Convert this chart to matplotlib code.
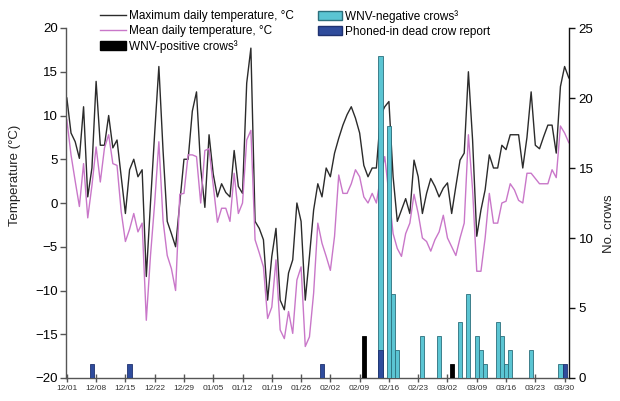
import matplotlib
matplotlib.use('Agg')
import matplotlib.pyplot as plt
from matplotlib.lines import Line2D
from matplotlib.patches import Patch

plt.rcParams['font.family'] = ['Liberation Sans', 'DejaVu Sans']

# daily temperatures, 12/01 (day 0) to 03/31 (day 120)
max_temp = [12.0, 8.0, 7.0, 5.1, 11.0, 0.7, 4.0, 13.9, 6.6, 6.6,
            10.0, 6.3, 7.2, 3.0, -1.2, 3.8, 5.0, 3.0, 3.8, -8.4,
            0.0, 8.0, 15.6, 6.0, -2.1, -3.5, -5.0, 0.0, 5.0, 5.0,
            10.5, 12.7, 4.0, -0.5, 7.8, 3.3, 0.7, 2.2, 1.2, 0.7,
            6.0, 1.9, 1.1, 13.7, 17.7, -2.1, -2.9, -4.2, -11.1, -6.1,
            -2.9, -11.1, -12.2, -8.0, -6.5, 0.0, -2.1, -11.1, -6.1, -0.8,
            2.2, 0.7, 4.0, 3.0, 5.7, 7.4, 8.9, 10.1, 11.0, 9.7,
            8.0, 4.3, 3.0, 4.0, 4.0, 10.0, 11.0, 11.6, 3.0, -2.1,
            -0.8, 0.5, -1.2, 4.9, 3.0, -1.2, 1.1, 2.8, 1.9, 0.7,
            1.7, 2.3, -1.2, 1.9, 4.9, 5.7, 15.0, 7.2, -3.8, -0.8,
            1.5, 5.5, 4.0, 4.0, 6.6, 6.1, 7.8, 7.8, 7.8, 4.0,
            7.5, 12.7, 6.6, 6.2, 7.6, 8.9, 8.9, 5.7, 13.3, 15.6,
            14.3]
mean_temp = [9.5, 5.5, 2.5, -0.4, 4.5, -1.7, 2.0, 6.4, 2.4, 6.3,
             7.8, 4.5, 4.3, -1.0, -4.4, -3.0, -1.2, -3.3, -2.3, -13.4,
             -6.0, 0.0, 7.0, -2.0, -6.0, -7.5, -10.0, 1.0, 1.1, 5.5,
             5.5, 5.3, 0.0, 6.0, 6.2, 2.0, -2.2, -0.6, -0.6, -2.1,
             3.4, -1.2, 0.0, 7.2, 8.3, -4.2, -5.7, -7.3, -13.2, -11.9,
             -6.5, -14.5, -15.5, -12.4, -14.9, -8.8, -7.3, -16.4, -15.3, -10.3,
             -2.3, -4.6, -6.1, -7.7, -3.8, 3.2, 1.1, 1.1, 2.2, 3.8,
             3.0, 0.7, 0.0, 1.1, 0.0, 3.0, 5.3, 1.0, -3.5, -5.2,
             -6.1, -3.5, -2.3, 1.0, -1.2, -4.0, -4.4, -5.5, -4.2, -3.3,
             -1.4, -4.0, -5.0, -6.0, -4.0, -2.3, 7.8, 1.5, -7.8, -7.8,
             -4.0, 1.1, -2.3, -2.3, 0.0, 0.2, 2.2, 1.5, 0.3, 0.0,
             3.4, 3.4, 2.8, 2.2, 2.2, 2.2, 3.8, 2.9, 8.8, 8.0,
             6.9]
days = list(range(len(max_temp)))

# crow counts by day index
neg_days = [75, 77, 78, 79, 85, 89, 94, 96, 98, 99, 100, 103, 104, 105, 106, 111, 118]
neg_counts = [23, 18, 6, 2, 3, 3, 4, 6, 3, 2, 1, 4, 3, 1, 2, 2, 1]
pos_days = [71, 92]
pos_counts = [3, 1]
phoned_days = [6, 15, 61, 75, 119]
phoned_counts = [1, 1, 1, 2, 1]

tick_days = list(range(0, 120, 7))
tick_labels = ['12/01', '12/08', '12/15', '12/22', '12/29', '01/05', '01/12', '01/19',
               '01/26', '02/02', '02/09', '02/16', '02/23', '03/02', '03/09', '03/16',
               '03/23', '03/30']

fig = plt.figure(figsize=(6.2, 4.01), dpi=100)
ax = fig.add_axes([66 / 620, 1 - 378 / 401, (569 - 66) / 620, (378 - 28) / 401])
ax2 = ax.twinx()

ax.plot(days, max_temp, color='#2b2b2b', lw=1.0)
ax.plot(days, mean_temp, color='#c977c9', lw=1.0)

bar_kw = dict(width=1.0, linewidth=0.6)
ax2.bar(neg_days, neg_counts, color='#5bc5d3', edgecolor='#2c6f7c', **bar_kw)
ax2.bar(pos_days, pos_counts, color='black', edgecolor='black', **bar_kw)
ax2.bar(phoned_days, phoned_counts, color='#2f4c9c', edgecolor='#1f3270', **bar_kw)

ax.set_xlim(-0.2, 120.05)
ax.set_ylim(-20, 20)
ax2.set_ylim(0, 25)
ax.set_yticks(range(-20, 21, 5))
ax2.set_yticks(range(0, 26, 5))
ax.set_xticks(tick_days)
ax.set_xticklabels(tick_labels, fontsize=6, color='#333333')

for a in (ax, ax2):
    a.spines['top'].set_visible(False)
    for s in a.spines.values():
        s.set_color('#555555')
        s.set_linewidth(1.0)
ax.spines['right'].set_visible(False)
ax2.spines['left'].set_visible(False)
ax2.spines['bottom'].set_visible(False)
ax2.spines['right'].set_color('#111111')

ax.tick_params(axis='x', direction='inout', length=6, width=1, color='#555555', pad=2)
ax.tick_params(axis='y', direction='out', length=4, width=1, color='#555555',
               labelsize=9.5, pad=2)
ax2.tick_params(axis='y', direction='out', length=4, width=1, color='#111111',
                labelsize=9.5, pad=3)

ax.set_ylabel('Temperature (°C)', fontsize=9.5, color='#222222')
ax.yaxis.set_label_coords(-0.09, 0.58)
ax2.set_ylabel('No. crows', fontsize=9.5, color='#222222')
ax2.yaxis.set_label_coords(1.068, 0.44)

leg1 = fig.legend(
    handles=[Line2D([], [], color='#2b2b2b', lw=1.0),
             Line2D([], [], color='#c977c9', lw=1.0),
             Patch(facecolor='black', edgecolor='black')],
    labels=['Maximum daily temperature, °C', 'Mean daily temperature, °C',
            'WNV-positive crows³'],
    loc='upper left', bbox_to_anchor=(94 / 620, 1 - 4 / 401), frameon=False,
    fontsize=8.5, borderpad=0, handlelength=2.2, handletextpad=0.3,
    labelspacing=0.25)
leg2 = fig.legend(
    handles=[Patch(facecolor='#5bc5d3', edgecolor='#2c6f7c'),
             Patch(facecolor='#2f4c9c', edgecolor='#1f3270')],
    labels=['WNV-negative crows³', 'Phoned-in dead crow report'],
    loc='upper left', bbox_to_anchor=(312 / 620, 1 - 4 / 401), frameon=False,
    fontsize=8.5, borderpad=0, handlelength=2.0, handletextpad=0.3,
    labelspacing=0.25)

fig.savefig('out.png', dpi=100)
